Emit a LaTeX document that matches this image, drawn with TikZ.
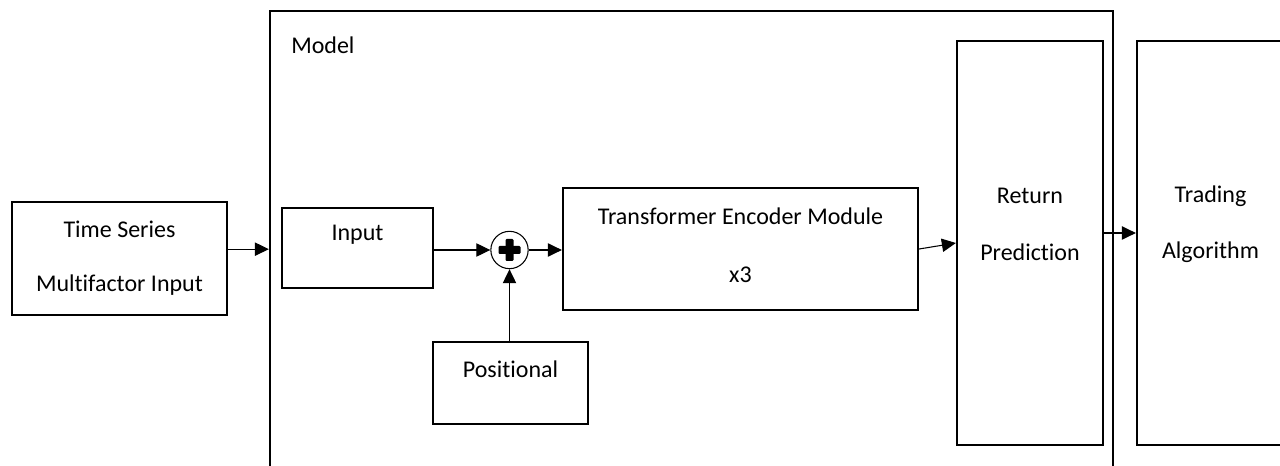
\documentclass[tikz,border=0pt]{standalone}
\usepackage{fontspec}
\setmainfont{Carlito}[Ligatures=NoCommon]
\usetikzlibrary{arrows.meta}
\begin{document}
\begin{tikzpicture}[x=0.75pt,y=-0.75pt,
  box/.style={draw=black,line width=1.7pt,fill=white,inner sep=0pt},
  lbl/.style={font=\fontsize{18}{21}\selectfont,inner sep=0pt,anchor=center},
  arr/.style={draw=black,line width=0.8pt,-{Triangle[length=10.5pt,width=10pt]}}]
  \useasboundingbox (0,0) rectangle (1280,466);
  \clip (0,0) rectangle (1280,466);

  % outer model frame (runs past the lower edge)
  \node[box,minimum width=632.25pt,minimum height=351.75pt] (model) at (691.5,245.5) {};
  \node[lbl,anchor=west] (modelt) at (291,45) {Model};

  % input series
  \node[box,minimum width=161.25pt,minimum height=84.75pt] (ts) at (119.5,258.5) {};
  \node[lbl] (ts1) at (119.5,229) {Time Series};
  \node[lbl] (ts2) at (119.5,285) {Multifactor Input};

  % input embedding
  \node[box,minimum width=113.25pt,minimum height=60pt] (inp) at (357.5,248) {};
  \node[lbl] (inpt) at (357.5,235) {Input};

  % positional encoding
  \node[box,minimum width=116.25pt,minimum height=61.5pt] (pos) at (510.5,383) {};
  \node[lbl] (post) at (510.5,369) {Positional};

  % summation
  \node[draw=black,line width=0.8pt,circle,minimum size=28pt,inner sep=0pt] (plus) at (509.5,250) {};
  \fill[black,rounded corners=0.8pt] (498.5,246) rectangle (520.5,254);
  \fill[black,rounded corners=0.8pt] (505.5,239) rectangle (513.5,261);

  % encoder stack
  \node[box,minimum width=266.25pt,minimum height=91.5pt] (tf) at (740.5,249) {};
  \node[lbl] (tf1) at (740.5,216) {Transformer Encoder Module};
  \node[lbl] (tf2) at (740.5,275) {x3};

  % output head
  \node[box,minimum width=109.5pt,minimum height=303pt] (ret) at (1030,243) {};
  \node[lbl] (ret1) at (1030,196) {Return};
  \node[lbl] (ret2) at (1030,252) {Prediction};

  % downstream trading
  \node[box,minimum width=110.25pt,minimum height=303pt] (trd) at (1210.5,243) {};
  \node[lbl] (trd1) at (1210.5,196) {Trading};
  \node[lbl] (trd2) at (1210.5,252) {Algorithm};

  % connectors
  \draw[arr] ([yshift=7pt]ts.east) -- ([yshift=7pt]ts.east -| model.west);
  \draw[arr] (inp.east |- plus) -- (plus.west);
  \draw[arr] (plus.east) -- (plus.east -| tf.west);
  \draw[arr] (pos.north -| plus) -- (plus.south);
  \draw[arr] (tf.east) -- (ret.west);
  \draw[arr] ([yshift=7.5pt]ret.east) -- ([yshift=7.5pt]ret.east -| trd.west);
\end{tikzpicture}
\end{document}
